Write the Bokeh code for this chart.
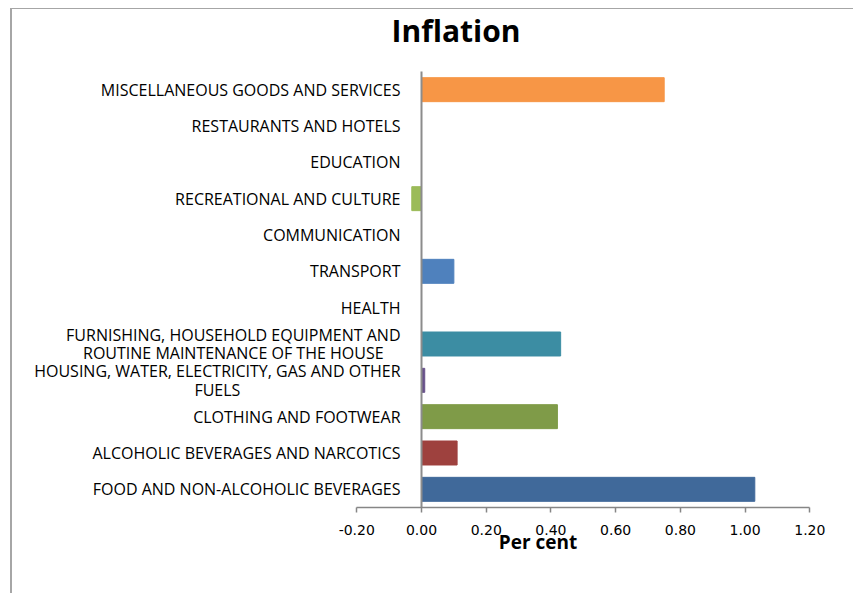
from bokeh.plotting import figure
from bokeh.models import FixedTicker, Label, ColumnDataSource, Range1d
from bokeh.core.properties import value
from bokeh.embed import file_html
from bokeh.resources import INLINE

# ---- data (bottom to top) ----
categories = [
    "FOOD AND NON-ALCOHOLIC BEVERAGES",
    "ALCOHOLIC BEVERAGES AND NARCOTICS",
    "CLOTHING AND FOOTWEAR",
    "HOUSING, WATER, ELECTRICITY, GAS AND OTHER\nFUELS",
    "FURNISHING, HOUSEHOLD EQUIPMENT AND\nROUTINE MAINTENANCE OF THE HOUSE",
    "HEALTH",
    "TRANSPORT",
    "COMMUNICATION",
    "RECREATIONAL AND CULTURE",
    "EDUCATION",
    "RESTAURANTS AND HOTELS",
    "MISCELLANEOUS GOODS AND SERVICES",
]
values = [1.03, 0.11, 0.42, 0.01, 0.43, 0.00, 0.10, 0.00, -0.03, 0.00, 0.00, 0.75]
colors = ["#40699A", "#9E413E", "#7F9B48", "#68518A", "#3C8DA3", "#F79646",
          "#4F81BD", "#C0504D", "#9BBB59", "#8064A2", "#4BACC6", "#F79646"]
x_ticks = [-0.2, 0.0, 0.2, 0.4, 0.6, 0.8, 1.0, 1.2]
tick_labels = ["-0.20", "0.00", "0.20", "0.40", "0.60", "0.80", "1.00", "1.20"]
title_text = "Inflation"
x_title = "Per cent"

ypos = list(range(len(categories)))
src = ColumnDataSource(dict(y=ypos, cat=categories, val=values, color=colors))

# layout (pixels) of the drawing area
W, H = 843, 585
px_per_unit = 323.6        # horizontal scale
zero_px = 409              # canvas px of x = 0
top_pad = 62               # px above the top row
row_h = 36.333
bottom_border = 40
frame_h = H - bottom_border
x_start = -zero_px / px_per_unit
x_end = (W - zero_px) / px_per_unit
y_top_row = len(categories) - 0.5
y_end = y_top_row + top_pad / row_h
y_start = y_end - frame_h / row_h

p = figure(width=W, height=H, title=None,
           x_range=Range1d(x_start, x_end), y_range=Range1d(y_start, y_end),
           output_backend="svg", toolbar_location=None,
           min_border_left=0, min_border_right=0,
           min_border_top=0, min_border_bottom=bottom_border)
p.styles = {"margin-left": "10px", "margin-top": "8px",
            "border-left": "2px solid #A6A6A6", "border-top": "1px solid #A6A6A6"}

p.outline_line_color = None
p.grid.visible = False
p.yaxis.visible = False

ax = p.xaxis[0]
ax.fixed_location = -0.5
ax.bounds = (x_ticks[0], x_ticks[-1])
ax.ticker = FixedTicker(ticks=x_ticks)
ax.major_label_overrides = {t: l for t, l in zip(x_ticks, tick_labels)}
ax.axis_line_color = "#868686"
ax.axis_line_width = 1.5
ax.major_tick_line_color = "#868686"
ax.major_tick_line_width = 1.5
ax.major_tick_out = 5
ax.major_tick_in = 0
ax.minor_tick_out = 0
ax.minor_tick_in = 0
ax.major_label_text_font = "DejaVu Sans"
ax.major_label_text_font_size = "14px"
ax.major_label_text_color = "#000000"
ax.major_label_standoff = 13

p.hbar(y="y", left=0, right="val", height=0.66, color="color", source=src)

p.segment(x0=0, x1=0, y0=-0.5, y1=y_top_row, line_color="#8C8C8C", line_width=2)

p.text(x=0, y="y", text="cat", source=src, x_offset=-21,
       anchor="center_right", text_align="center", text_baseline="middle",
       text_font=value("Open Sans"), text_font_size="16px", text_color="#000000",
       text_line_height=0.85)

# chart title near the top of the chart area
p.add_layout(Label(x=0.1066, y=y_end - 21 / row_h, text=title_text,
                   text_align="center", text_baseline="alphabetic",
                   text_font="Open Sans", text_font_style="bold",
                   text_font_size="30px", text_color="#000000"))

p.add_layout(Label(x=0.36, y=-1.436, text=x_title, text_align="center",
                   text_baseline="middle", text_font="Open Sans",
                   text_font_style="bold", text_font_size="19px", text_color="#000000"))

open("out.html", "w").write(file_html(p, INLINE))
